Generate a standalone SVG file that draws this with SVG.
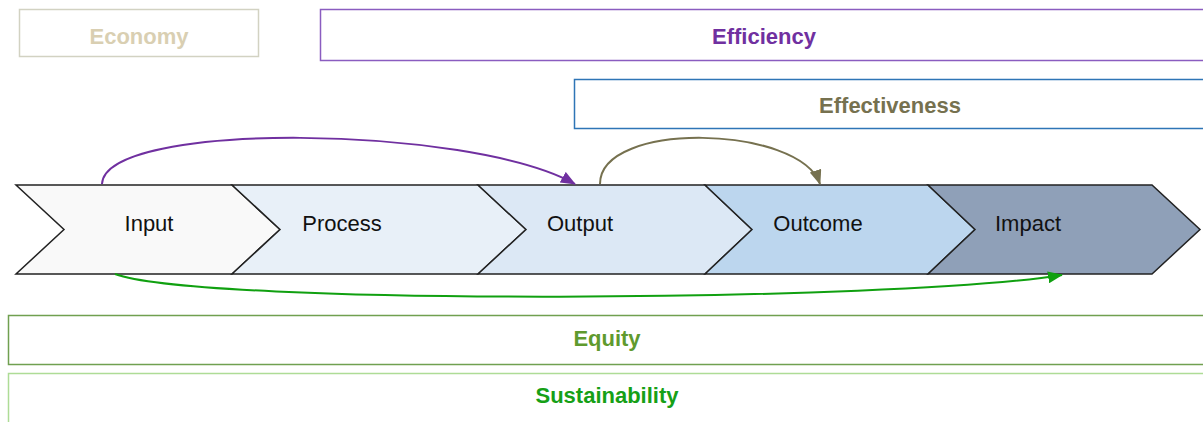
<svg xmlns="http://www.w3.org/2000/svg" width="1203" height="422" viewBox="0 0 1203 422">
<style>
.box{fill:#ffffff;stroke-width:1.5}
.lbl{font-family:"Liberation Sans",Arial,sans-serif;font-size:22px;font-weight:bold;text-anchor:middle}
.chev{stroke:#222;stroke-width:1.5;stroke-linejoin:miter}
.clbl{font-family:"Liberation Sans",Arial,sans-serif;font-size:22px;fill:#111;text-anchor:middle}
.arc{fill:none;stroke-width:2}
</style>
<defs>
<marker id="ahP" markerUnits="userSpaceOnUse" markerWidth="16" markerHeight="12" refX="14" refY="6" orient="auto"><path d="M0,0 L15,6 L0,12 Z" fill="#7030a0"/></marker>
<marker id="ahO" markerUnits="userSpaceOnUse" markerWidth="16" markerHeight="12" refX="14" refY="6" orient="auto"><path d="M0,0 L15,6 L0,12 Z" fill="#76714f"/></marker>
<marker id="ahG" markerUnits="userSpaceOnUse" markerWidth="16" markerHeight="12" refX="14" refY="6" orient="auto"><path d="M0,0 L15,6 L0,12 Z" fill="#10a010"/></marker>
</defs>
<rect width="1203" height="422" fill="#ffffff"/>
<g id="economy"><rect class="box" x="19.5" y="9.5" width="239" height="47" stroke="#d2d2c2"/><text class="lbl" x="139" y="44" fill="#d9cfb2">Economy</text></g>
<g id="efficiency"><rect class="box" x="320.5" y="9.5" width="900" height="51" stroke="#8a5cc0"/><text class="lbl" x="764" y="44" fill="#7030a0">Efficiency</text></g>
<g id="effectiveness"><rect class="box" x="574.5" y="79.5" width="650" height="49" stroke="#2e75b6"/><text class="lbl" x="890" y="113" fill="#76714f">Effectiveness</text></g>
<g id="input"><path class="chev" d="M16,185 L232,185 L280,229.5 L232,274 L16,274 L64,229.5 Z" fill="#f9f9f9"/><text class="clbl" x="149" y="231">Input</text></g>
<g id="process"><path class="chev" d="M232,185 L478,185 L526,229.5 L478,274 L232,274 L280,229.5 Z" fill="#e8f0f8"/><text class="clbl" x="342" y="231">Process</text></g>
<g id="output"><path class="chev" d="M478,185 L705,185 L752,229.5 L705,274 L478,274 L526,229.5 Z" fill="#dce8f5"/><text class="clbl" x="580" y="231">Output</text></g>
<g id="outcome"><path class="chev" d="M705,185 L928,185 L975,229.5 L928,274 L705,274 L752,229.5 Z" fill="#bcd6ee"/><text class="clbl" x="818" y="231">Outcome</text></g>
<g id="impact"><path class="chev" d="M928,185 L1152,185 L1200,229.5 L1152,274 L928,274 L975,229.5 Z" fill="#8fa0b8"/><text class="clbl" x="1028" y="231">Impact</text></g>
<g id="equity"><rect class="box" x="8.5" y="315.5" width="1220" height="49" stroke="#70a050"/><text class="lbl" x="607" y="346" fill="#5f9a2e">Equity</text></g>
<g id="sustainability"><rect class="box" x="8.5" y="373.5" width="1220" height="60" stroke="#aedc96"/><text class="lbl" x="607" y="403" fill="#16a016">Sustainability</text></g>
<g id="connectors">
<path class="arc" d="M102,184 C105,120 470,125 575,184" stroke="#7030a0" marker-end="url(#ahP)"/>
<path class="arc" d="M600,184 C600,120 800,125 820,184" stroke="#76714f" marker-end="url(#ahO)"/>
<path class="arc" d="M115,274 C200,306 900,302 1062,275" stroke="#10a010" marker-end="url(#ahG)"/>
</g>
</svg>
